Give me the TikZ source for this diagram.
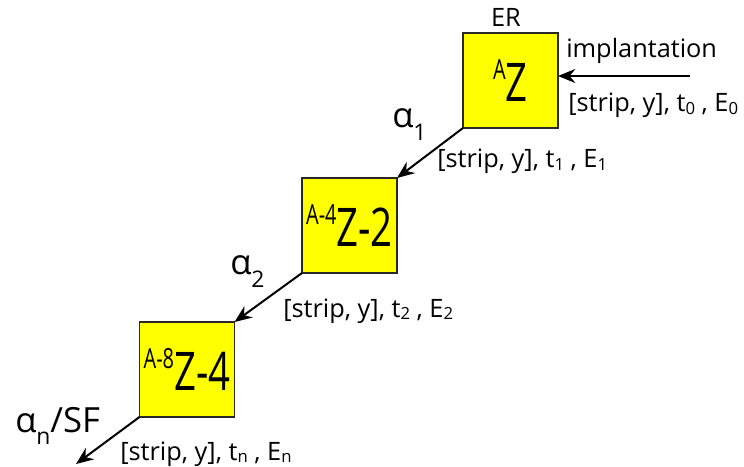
\documentclass[tikz,border=0pt]{standalone}
\usepackage{fontspec,graphicx}
\setmainfont{Open Sans}
\newfontfamily\condfont[FakeStretch=0.72]{Open Sans}
\usetikzlibrary{arrows.meta,positioning,calc}
\definecolor{boxyellow}{RGB}{255,255,0}
\definecolor{boxedge}{RGB}{40,40,40}
\newcommand{\lo}[1]{\raisebox{-0.1em}{\scalebox{0.66}{#1}}}
\newcommand{\alo}[1]{\raisebox{-0.36em}{\scalebox{0.66}{#1}}}
\newcommand{\hi}[1]{\raisebox{0.41em}{\scalebox{0.52}{#1}}}

\begin{document}
\begin{tikzpicture}[x=0.75pt,y=-0.75pt,
    nucl/.style={draw=boxedge,line width=1pt,fill=boxyellow,minimum size=71.25pt,
      inner sep=0pt,outer sep=0pt,font=\condfont\fontsize{40}{44}\selectfont},
    lbl/.style={inner sep=0pt,font=\fontsize{19}{21}\selectfont},
    alph/.style={inner sep=0pt,anchor=base west,font=\fontsize{26}{28}\selectfont},
    arr/.style={-{Stealth[length=13pt,width=10.5pt]},line width=1.5pt}]
  \useasboundingbox (0,0) rectangle (744,467);

  %% decay chain boxes
  \node[nucl] (mother)   at (510.5,80.5)  {\hi{A}Z};
  \node[nucl] (daughter) at (349.5,225.5) {\hi{A-4}Z-2};
  \node[nucl] (grand)    at (187,369.5)   {\hi{A-8}Z-4};

  %% implantation
  \node[lbl,anchor=base] (er) at (506,27) {ER};
  \coordinate (src) at (690,76);
  \draw[arr] (src) -- (src -| mother.east);
  \node[lbl,anchor=base west] (impl) at (566,58) {implantation};
  \node[lbl,anchor=base west] (pos0) at (568,112) {[strip, y], t\lo{0} , E\lo{0}};

  %% alpha decays
  \draw[arr] (mother.south west) -- (daughter.north east);
  \node[alph] (a1) at (392,128) {α\alo{1}};
  \node[lbl,anchor=base west] (pos1) at (437,168) {[strip, y], t\lo{1} , E\lo{1}};

  \draw[arr] (daughter.south west) -- (grand.north east);
  \node[alph] (a2) at (230,275) {α\alo{2}};
  \node[lbl,anchor=base west] (pos2) at (283,317) {[strip, y], t\lo{2} , E\lo{2}};

  \coordinate (end) at (76,464);
  \draw[arr] (grand.south west) -- (end);
  \node[alph] (an) at (15,432) {α\alo{n}/SF};
  \node[lbl,anchor=base west] (posn) at (120,460) {[strip, y], t\lo{n} , E\lo{n}};
\end{tikzpicture}
\end{document}
